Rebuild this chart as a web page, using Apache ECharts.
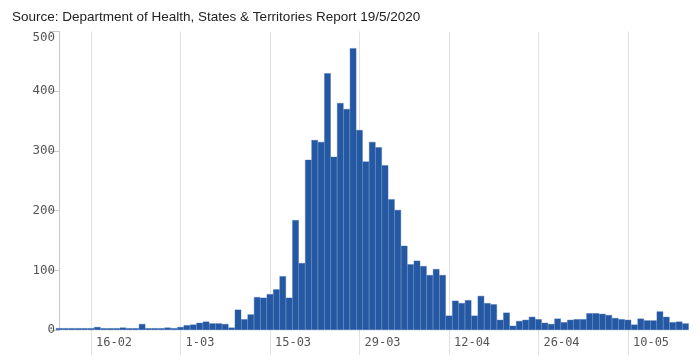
<!DOCTYPE html>
<html>
<head>
<meta charset="utf-8">
<script src="https://cdn.jsdelivr.net/npm/echarts@6/dist/echarts.min.js"></script>
<style>
html,body{margin:0;padding:0;background:#fff;}
#chart{width:700px;height:360px;}
</style>
</head>
<body>
<div id="chart"></div>
<script>
// Source title
const titleText = 'Source: Department of Health, States & Territories Report 19/5/2020';

// Daily categories (day-month), 11 Feb to 19 May 2020
const dates = [
  '11-02','12-02','13-02','14-02','15-02','16-02','17-02','18-02','19-02','20-02',
  '21-02','22-02','23-02','24-02','25-02','26-02','27-02','28-02','29-02',
  '1-03','2-03','3-03','4-03','5-03','6-03','7-03','8-03','9-03','10-03',
  '11-03','12-03','13-03','14-03','15-03','16-03','17-03','18-03','19-03','20-03',
  '21-03','22-03','23-03','24-03','25-03','26-03','27-03','28-03','29-03','30-03','31-03',
  '1-04','2-04','3-04','4-04','5-04','6-04','7-04','8-04','9-04','10-04',
  '11-04','12-04','13-04','14-04','15-04','16-04','17-04','18-04','19-04','20-04',
  '21-04','22-04','23-04','24-04','25-04','26-04','27-04','28-04','29-04','30-04',
  '1-05','2-05','3-05','4-05','5-05','6-05','7-05','8-05','9-05','10-05',
  '11-05','12-05','13-05','14-05','15-05','16-05','17-05','18-05','19-05'
];

// New cases per day
const cases = [
  3, 3, 3, 3, 3,
  3, 5, 3, 3, 3,
  4, 3, 3, 10, 3,
  3, 3, 4, 3,
  5, 8, 9, 12, 14, 11, 11, 10, 4,
  34, 18, 26,
  55, 54, 60, 68, 90, 54, 184, 112,
  285, 318, 315, 430, 290, 380, 370, 472, 335, 282, 315, 306, 276,
  219, 201, 141, 110, 116, 107, 92, 102, 92,
  24, 49, 45, 50, 24, 57, 45, 43, 17, 29,
  7, 15, 17, 22, 18, 12, 10, 19, 13, 17, 18, 18,
  28, 28, 27, 25, 20, 18, 17, 9, 19, 16, 16, 31, 22, 13, 14, 11
];

// Labelled dates on the x axis
const tickLabels = ['16-02','1-03','15-03','29-03','12-04','26-04','10-05'];

// Y axis ticks
const yTicks = [0, 100, 200, 300, 400, 500];

const tickIdx = tickLabels.map(l => dates.indexOf(l));
const seriesData = cases.map((v, i) => [i, v]);

const chart = echarts.init(document.getElementById('chart'), null, {renderer: 'canvas'});
chart.setOption({
  animation: false,
  backgroundColor: '#fff',
  title: {
    text: titleText,
    left: 7,
    top: 5,
    textStyle: {
      fontFamily: 'Liberation Sans, Arial, sans-serif',
      fontSize: 13.5,
      fontWeight: 'normal',
      color: '#222'
    }
  },
  grid: {left: 59, right: 14.5, top: 31.5, bottom: 30, containLabel: false},
  xAxis: {
    type: 'value',
    min: 0,
    max: dates.length - 1,
    axisLine: {show: false},
    axisTick: {
      show: true,
      customValues: tickIdx,
      length: 25,
      lineStyle: {color: '#e2e2e2', width: 1}
    },
    splitLine: {show: true, lineStyle: {color: '#e2e2e2', width: 1}},
    axisLabel: {
      customValues: tickIdx,
      formatter: v => dates[Math.round(v)],
      align: 'left',
      padding: [0, 0, 0, 5],
      margin: 7,
      fontFamily: 'DejaVu Sans Mono, monospace',
      fontSize: 12,
      color: '#555'
    }
  },
  yAxis: {
    type: 'value',
    min: yTicks[0],
    max: yTicks[yTicks.length - 1],
    interval: yTicks[1] - yTicks[0],
    axisLine: {show: true, lineStyle: {color: '#c8c8c8', width: 1}},
    axisTick: {show: true, length: 10, lineStyle: {color: '#c8c8c8'}},
    splitLine: {show: false},
    axisLabel: {
      margin: 4,
      fontFamily: 'DejaVu Sans Mono, monospace',
      fontSize: 12.5,
      color: '#555',
      formatter: v => v === yTicks[yTicks.length - 1] ? '{t|' + v + '}' : String(v),
      rich: {t: {padding: [12, 0, 0, 0], fontFamily: 'DejaVu Sans Mono, monospace', fontSize: 12.5, color: '#555'}}
    }
  },
  series: [{
    type: 'bar',
    data: seriesData,
    barCategoryGap: '0%',
    barWidth: '100%',
    clip: true,
    itemStyle: {color: '#2458a3', borderColor: '#3566ad', borderWidth: 0.4}
  }]
});
</script>
</body>
</html>
